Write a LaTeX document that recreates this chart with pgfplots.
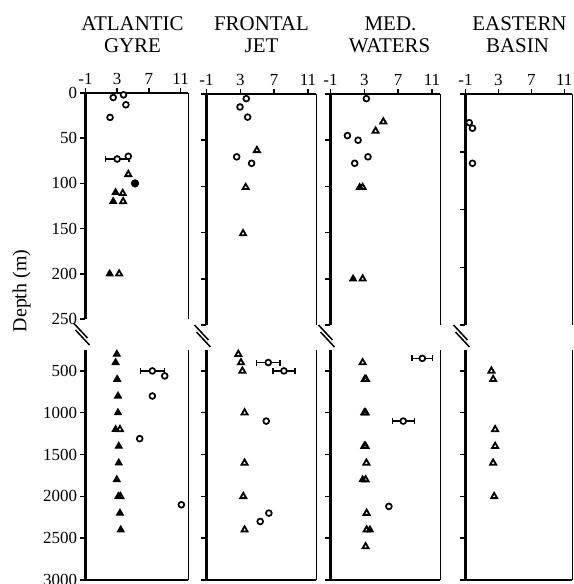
\documentclass[border=0pt]{standalone}
\usepackage{pgfplots}
\pgfplotsset{compat=1.18}
\usepackage{fontspec}
\setmainfont{Liberation Serif}
\begin{document}
\pgfplotsset{
 panel/.style={scale only axis, xmin=-1, xmax=12, y dir=reverse, tick align=outside,
   axis line style={-, line width=2.2bp, black},
   major tick length=5bp, tick style={line width=1.5bp, black},
   ticklabel style={font=\fontsize{17}{17}\selectfont},
   /pgf/number format/assume math mode=true,
   /pgf/number format/1000 sep={},
   clip=false, anchor=north west,
   error bars/error bar style={line width=1.3bp, black},
   error bars/error mark options={rotate=90, mark size=3bp, line width=1.3bp, black},
 },
 upper/.style={panel, axis x line*=top, axis y line*=left, ymin=0, ymax=250, xtick={-1,3,7,11}, ytick={0,50,...,250}},
 lower/.style={panel, axis x line*=bottom, axis y line*=left, ymin=250, ymax=3000, xtick=\empty, ytick={500,1000,...,3000}},
 oc/.style={only marks, black, mark=*, mark size=2.9bp, mark options={line width=1.7bp, draw=black, fill=white}},
 fc/.style={only marks, black, mark=*, mark size=3.9bp, mark options={draw=black, fill=black}},
 ot/.style={only marks, black, mark=triangle, mark size=3.5bp, mark options={line width=1.8bp, draw=black}},
 ft/.style={only marks, black, mark=triangle*, mark size=3.8bp, mark options={line width=1.2bp, draw=black, fill=black}},
 oce/.style={oc, error bars/.cd, x dir=both, x explicit},
}
\begin{tikzpicture}
\path[use as bounding box] (0,0) rectangle (571bp,-584bp);
% titles
\tikzset{ttl/.style={anchor=base, inner sep=0pt, font=\fontsize{21}{22}\selectfont}}
\node[ttl] at (130bp,-30.5bp) {ATLANTIC};
\node[ttl] at (130bp,-52.5bp) {GYRE};
\node[ttl] at (259bp,-30.5bp) {FRONTAL};
\node[ttl] at (259bp,-52.5bp) {JET};
\node[ttl] at (388bp,-30.5bp) {MED.};
\node[ttl] at (387bp,-52.5bp) {WATERS};
\node[ttl] at (517bp,-30.5bp) {EASTERN};
\node[ttl] at (515bp,-52.5bp) {BASIN};
\node[rotate=90, font=\fontsize{20}{20}\selectfont, inner sep=0pt] at (19bp,-291bp) {Depth (m)};

% ---------- Panel 1 : Atlantic Gyre ----------
\begin{axis}[upper, at={(83bp,-93bp)}, width=103bp, height=226bp]
\draw[line width=1.6bp] (rel axis cs:1,0) -- (rel axis cs:1,1);
\addplot[ft] coordinates {(2.8,110) (2.5,120) (2.05,200)};
\addplot[ot] coordinates {(4.4,90) (3.7,111) (3.75,120) (3.25,200)};
\addplot[oce] coordinates {(3.0,73) +- (1.5,0)};
\addplot[oc] coordinates {(2.5,5) (3.8,2) (4.1,13) (2.1,27) (4.4,70)};
\addplot[fc] coordinates {(5.25,100)};
\end{axis}
\begin{axis}[lower, at={(83bp,-350bp)}, width=103bp, height=230bp]
\draw[line width=1.6bp] (rel axis cs:1,0) -- (rel axis cs:1,1);
\addplot[ft] coordinates {(2.95,300) (2.8,400) (3.0,600) (3.1,800) (3.1,1000) (2.8,1200) (3.2,1400) (3.2,1600) (2.95,1800) (3.15,2000) (3.35,2200) (3.45,2400)};
\addplot[ot] coordinates {(3.35,1200) (3.4,2000)};
\addplot[oce] coordinates {(7.44,500) +- (1.5,0)};
\addplot[oc] coordinates {(9.0,560) (7.44,800) (5.84,1310) (11.1,2100)};
\end{axis}

% ---------- Panel 2 : Frontal Jet ----------
\begin{axis}[upper, at={(204bp,-94bp)}, width=110bp, height=231bp, yticklabel=\empty]
\draw[line width=1.6bp] (rel axis cs:1,0) -- (rel axis cs:1,1);
\addplot[ot] coordinates {(4.96,61) (3.63,101) (3.32,151)};
\addplot[oc] coordinates {(3.7,5) (2.96,14) (3.86,25) (2.57,68) (4.33,75)};
\end{axis}
\begin{axis}[lower, at={(204bp,-350bp)}, width=110bp, height=230bp, yticklabel=\empty]
\draw[line width=1.6bp] (rel axis cs:1,0) -- (rel axis cs:1,1);
\addplot[ot] coordinates {(2.76,300) (3.08,400) (3.24,500) (3.5,1000) (3.5,1600) (3.35,2000) (3.5,2400)};
\addplot[oce] coordinates {(6.3,400) +- (1.4,0) (8.15,500) +- (1.3,0)};
\addplot[oc] coordinates {(6.06,1100) (6.37,2200) (5.35,2300)};
\end{axis}

% ---------- Panel 3 : Med. Waters ----------
\begin{axis}[upper, at={(328bp,-94bp)}, width=110bp, height=231bp, yticklabel=\empty]
\draw[line width=1.6bp] (rel axis cs:1,0) -- (rel axis cs:1,1);
\addplot[ft] coordinates {(2.45,101) (1.67,200)};
\addplot[ot] coordinates {(5.24,30) (4.33,40) (2.8,101) (2.8,200)};
\addplot[oc] coordinates {(3.24,5) (1.0,45) (2.26,50) (3.43,68) (1.86,75)};
\end{axis}
\begin{axis}[lower, at={(328bp,-350bp)}, width=110bp, height=230bp, yticklabel=\empty]
\draw[line width=1.6bp] (rel axis cs:1,0) -- (rel axis cs:1,1);
\addplot[ft] coordinates {(2.8,1800) (3.66,2400)};
\addplot[ot] coordinates {(2.8,400) (3.05,600) (3.2,600) (3.0,1000) (3.15,1000) (3.0,1400) (3.15,1400) (3.24,1600) (3.15,1800) (3.27,2200) (3.27,2400) (3.15,2600)};
\addplot[oce] coordinates {(9.85,350) +- (1.2,0) (7.6,1100) +- (1.3,0)};
\addplot[oc] coordinates {(5.9,2120)};
\end{axis}

% ---------- Panel 4 : Eastern Basin ----------
\begin{axis}[upper, at={(463bp,-94bp)}, width=107bp, height=231bp, yticklabel=\empty, ytick={0,62.5,125,187.5,250}]
\draw[line width=1.6bp] (rel axis cs:1,0) -- (rel axis cs:1,1);
\addplot[oc] coordinates {(-0.55,31) (-0.15,37) (-0.15,75)};
\end{axis}
\begin{axis}[lower, at={(463bp,-350bp)}, width=107bp, height=230bp, yticklabel=\empty]
\draw[line width=1.6bp] (rel axis cs:1,0) -- (rel axis cs:1,1);
\addplot[ot] coordinates {(2.15,500) (2.36,600) (2.6,1200) (2.6,1400) (2.36,1600) (2.48,2000)};
\end{axis}

% axis break marks
\foreach \xo/\yo in {83/-2, 204/0, 328/0, 463/0}{
  \draw[line width=1.5bp] (\xo bp-12bp,-325bp-\yo bp) -- (\xo bp+2bp,-340bp-\yo bp);
  \draw[line width=1.5bp] (\xo bp-10bp,-332bp-\yo bp) -- (\xo bp+4bp,-347bp-\yo bp);
}
\end{tikzpicture}
\end{document}
